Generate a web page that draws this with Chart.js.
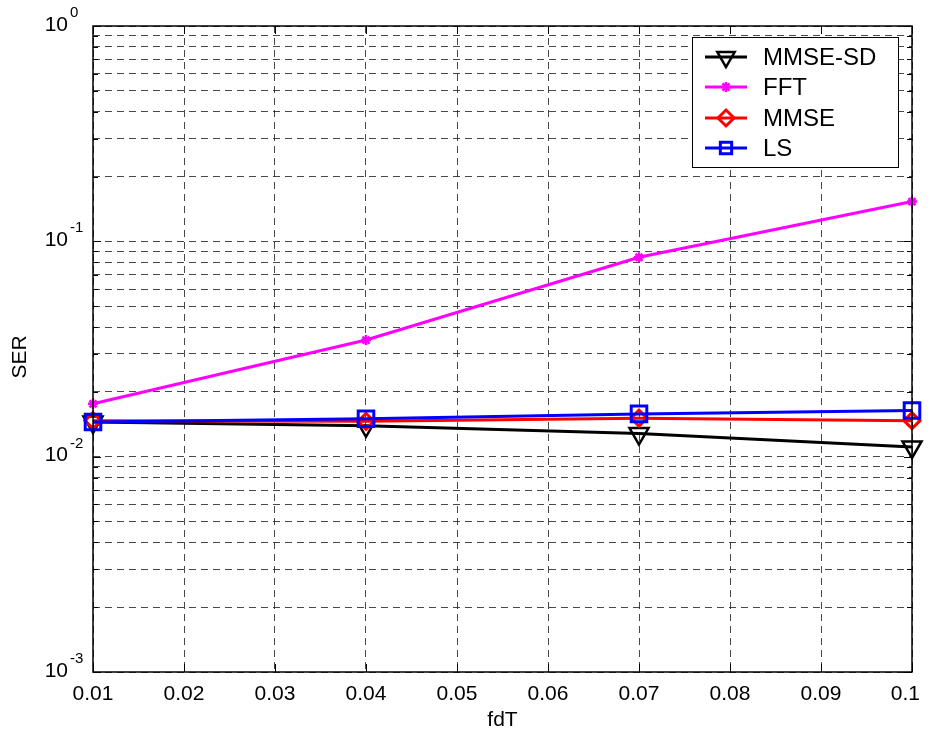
<!DOCTYPE html>
<html>
<head>
<meta charset="utf-8">
<title>SER vs fdT</title>
<script src="https://cdn.jsdelivr.net/npm/chart.js@4.4.0/dist/chart.umd.min.js"></script>
<style>
  body { margin: 0; background: #fff; }
  #wrap { width: 930px; height: 736px; }
</style>
</head>
<body>
<div id="wrap"><canvas id="serChart" width="930" height="736"></canvas></div>
<script>
'use strict';
// Data
var fdT = [0.01, 0.04, 0.07, 0.1];
var serMmseSd = [0.0145, 0.0139, 0.0128, 0.0111];
var serFft = [0.0176, 0.0348, 0.0843, 0.153];
var serMmse = [0.0147, 0.0146, 0.0151, 0.0147];
var serLs = [0.0145, 0.0150, 0.0158, 0.0164];

var xTickLabels = ['0.01', '0.02', '0.03', '0.04', '0.05', '0.06', '0.07', '0.08', '0.09', '0.1'];
var yDecades = [-3, -2, -1, 0];
var xTitle = 'fdT';
var yTitle = 'SER';

var FONT = "'Liberation Sans', Arial, sans-serif";

var toPoints = function (ys) {
  var pts = [];
  for (var i = 0; i < fdT.length; i++) {
    pts.push({ x: fdT[i], y: ys[i] });
  }
  return pts;
};

// log grid: 1..9 times every decade
var logTicks = function () {
  var ticks = [];
  for (var d = 0; d < yDecades.length - 1; d++) {
    for (var m = 1; m < 10; m++) {
      ticks.push({ value: m * Math.pow(10, yDecades[d]), major: m === 1 });
    }
  }
  ticks.push({ value: Math.pow(10, yDecades[yDecades.length - 1]), major: true });
  return ticks;
};

var drawMarker = function (ctx, style, r, rot, x, y, color, bw) {
  ctx.save();
  ctx.strokeStyle = color;
  ctx.fillStyle = 'rgba(0,0,0,0)';
  ctx.lineWidth = bw;
  Chart.helpers.drawPoint(ctx, { pointStyle: style, radius: r, rotation: rot, borderWidth: bw }, x, y);
  ctx.restore();
};

// frame, inside ticks, labels and legend
var matlabAxes = {
  id: 'matlabAxes',
  afterDraw: function (chart) {
    var ctx = chart.ctx;
    var area = chart.chartArea;
    var xs = chart.scales.x;
    var ys = chart.scales.y;
    ctx.save();

    ctx.strokeStyle = '#000';
    ctx.lineWidth = 1;
    ctx.setLineDash([]);

    // tick marks pointing inward
    ys.ticks.forEach(function (t) {
      var py = Math.round(ys.getPixelForValue(t.value)) + 0.5;
      var len = t.major ? 8 : 5;
      ctx.beginPath();
      ctx.moveTo(area.left, py); ctx.lineTo(area.left + len, py);
      ctx.moveTo(area.right, py); ctx.lineTo(area.right - len, py);
      ctx.stroke();
    });
    xs.ticks.forEach(function (t) {
      var px = Math.round(xs.getPixelForValue(t.value)) + 0.5;
      ctx.beginPath();
      ctx.moveTo(px, area.bottom); ctx.lineTo(px, area.bottom - 8);
      ctx.moveTo(px, area.top); ctx.lineTo(px, area.top + 8);
      ctx.stroke();
    });

    // box
    ctx.lineWidth = 1.5;
    ctx.strokeRect(area.left, area.top, area.right - area.left, area.bottom - area.top);

    // x tick labels (last one pulled in to stay on the canvas)
    ctx.fillStyle = '#000';
    ctx.font = '21px ' + FONT;
    ctx.textAlign = 'center';
    ctx.textBaseline = 'top';
    for (var i = 0; i < xTickLabels.length; i++) {
      var px = xs.getPixelForValue(parseFloat(xTickLabels[i]));
      var half = ctx.measureText(xTickLabels[i]).width / 2;
      if (px + half > 920) {
        px = 920 - half;
      }
      ctx.fillText(xTickLabels[i], px, area.bottom + 12);
    }

    // y tick labels with exponents
    for (var j = 0; j < yDecades.length; j++) {
      var py = ys.getPixelForValue(Math.pow(10, yDecades[j]));
      ctx.font = '21px ' + FONT;
      ctx.textAlign = 'right';
      ctx.textBaseline = 'middle';
      ctx.fillText('10', 68, py - 1);
      ctx.font = '15px ' + FONT;
      ctx.textAlign = 'left';
      ctx.fillText(String(yDecades[j]), 70, py - 13);
    }

    // axis titles
    ctx.font = '21px ' + FONT;
    ctx.textAlign = 'center';
    ctx.textBaseline = 'middle';
    ctx.fillText(xTitle, (area.left + area.right) / 2, 720);
    ctx.save();
    ctx.translate(20, 357);
    ctx.rotate(-Math.PI / 2);
    ctx.fillText(yTitle, 0, 0);
    ctx.restore();

    // legend
    var lx = 692, ly = 37, lw = 206, lh = 130;
    ctx.fillStyle = '#fff';
    ctx.fillRect(lx, ly, lw, lh);
    ctx.strokeStyle = '#000';
    ctx.lineWidth = 1;
    ctx.strokeRect(lx + 0.5, ly + 0.5, lw, lh);
    var rows = [57, 87, 118, 148];
    chart.data.datasets.forEach(function (ds, n) {
      var ry = rows[n];
      ctx.strokeStyle = ds.borderColor;
      ctx.lineWidth = ds.borderWidth;
      ctx.beginPath();
      ctx.moveTo(705, ry); ctx.lineTo(747, ry);
      ctx.stroke();
      drawMarker(ctx, ds.pointStyle, ds.legendRadius, ds.pointRotation || 0, 726, ry, ds.borderColor, ds.pointBorderWidth);
      ctx.fillStyle = '#000';
      ctx.font = '24px ' + FONT;
      ctx.textAlign = 'left';
      ctx.textBaseline = 'middle';
      ctx.fillText(ds.label, 763, ry + 1);
    });

    ctx.restore();
  }
};

var gridOpts = { color: 'rgba(40,40,40,0.85)', lineWidth: 1, drawTicks: false };
var borderOpts = { display: false, dash: [7, 5] };

var ctx = document.getElementById('serChart').getContext('2d');
var chart = new Chart(ctx, {
  type: 'line',
  data: {
    datasets: [{
      label: 'MMSE-SD',
      data: toPoints(serMmseSd),
      borderColor: '#000000',
      borderWidth: 3,
      pointStyle: 'triangle',
      pointRotation: 180,
      pointRadius: 11,
      legendRadius: 10,
      pointBorderWidth: 2.5,
      pointBackgroundColor: 'rgba(0,0,0,0)',
      clip: false,
      order: 4
    }, {
      label: 'FFT',
      data: toPoints(serFft),
      borderColor: '#ff00ff',
      borderWidth: 3,
      pointStyle: 'star',
      pointRadius: 5,
      legendRadius: 5,
      pointBorderWidth: 2.5,
      pointBackgroundColor: 'rgba(0,0,0,0)',
      clip: false,
      order: 3
    }, {
      label: 'MMSE',
      data: toPoints(serMmse),
      borderColor: '#ff0000',
      borderWidth: 3,
      pointStyle: 'rectRot',
      pointRadius: 8,
      legendRadius: 8,
      pointBorderWidth: 3,
      pointBackgroundColor: 'rgba(0,0,0,0)',
      clip: false,
      order: 2
    }, {
      label: 'LS',
      data: toPoints(serLs),
      borderColor: '#0000ff',
      borderWidth: 3,
      pointStyle: 'rect',
      pointRadius: 11,
      legendRadius: 8,
      pointBorderWidth: 3,
      pointBackgroundColor: 'rgba(0,0,0,0)',
      clip: false,
      order: 1
    }]
  },
  options: {
    responsive: false,
    animation: false,
    devicePixelRatio: 1,
    layout: { padding: { left: 93, right: 18, top: 26, bottom: 64 } },
    plugins: { legend: { display: false }, tooltip: { enabled: false } },
    elements: { line: { tension: 0 } },
    scales: {
      x: {
        type: 'linear',
        min: 0.01,
        max: 0.1,
        afterBuildTicks: function (scale) {
          scale.ticks = xTickLabels.map(function (l) { return { value: parseFloat(l) }; });
        },
        ticks: { display: false },
        grid: gridOpts,
        border: borderOpts
      },
      y: {
        type: 'logarithmic',
        min: Math.pow(10, yDecades[0]),
        max: Math.pow(10, yDecades[yDecades.length - 1]),
        afterBuildTicks: function (scale) {
          scale.ticks = logTicks();
        },
        ticks: { display: false },
        grid: gridOpts,
        border: borderOpts
      }
    }
  },
  plugins: [matlabAxes]
});
</script>
</body>
</html>
